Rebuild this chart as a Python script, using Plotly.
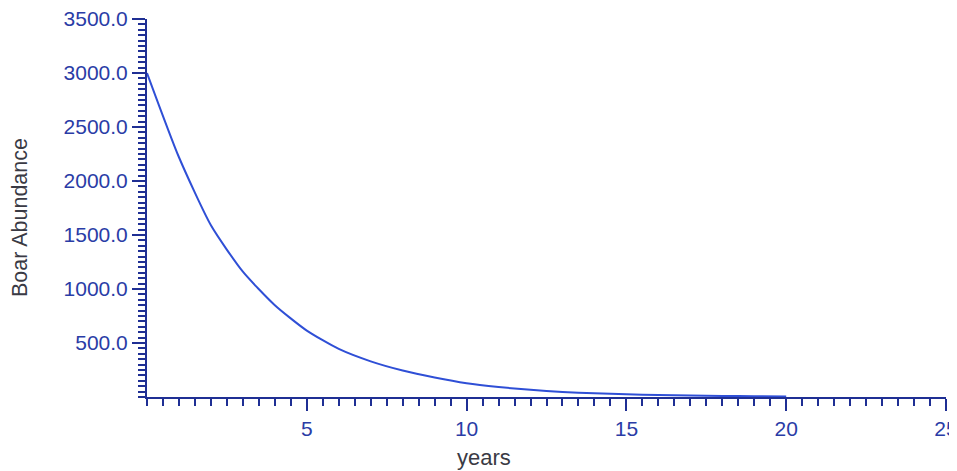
import plotly.graph_objects as go

# ---- data ----
years = [0, 1, 2, 3, 4, 5, 6, 7, 8, 9, 10, 11, 12, 13, 14, 15, 16, 17, 18, 19, 20]
abundance = [3000, 2220, 1590, 1160, 850, 615, 445, 330, 245, 180, 127,
             92, 66, 47, 34, 25, 18, 13, 10, 7, 5]

x_tickvals = [5, 10, 15, 20, 25]
x_ticktext = ["5", "10", "15", "20", "25"]
y_tickvals = [500, 1000, 1500, 2000, 2500, 3000, 3500]
y_ticktext = ["500.0", "1000.0", "1500.0", "2000.0", "2500.0", "3000.0", "3500.0"]

x_title = "years"
y_title = "Boar Abundance"

AXIS_COLOR = "#1f2f94"
LABEL_COLOR = "#2a3ca6"
LINE_COLOR = "#2f4fd6"
TITLE_COLOR = "#3a3a44"
FONT = "Arial, Liberation Sans, sans-serif"

fig = go.Figure()
fig.add_trace(go.Scatter(
    x=years, y=abundance, mode="lines",
    line=dict(color=LINE_COLOR, width=2, shape="spline", smoothing=0.6),
    showlegend=False, hoverinfo="x+y",
))

fig.update_layout(
    width=949, height=463,
    margin=dict(l=139, r=11, t=11, b=74),
    paper_bgcolor="white", plot_bgcolor="white",
    font=dict(family=FONT),
    xaxis=dict(
        range=[0, 25], showgrid=False, zeroline=False,
        showline=True, linecolor=AXIS_COLOR, linewidth=2,
        tickmode="array", tickvals=x_tickvals, ticktext=x_ticktext,
        ticks="outside", ticklen=12, tickwidth=2, tickcolor=AXIS_COLOR,
        tickfont=dict(family=FONT, size=21, color=LABEL_COLOR),
        ticklabeloverflow="allow",
        minor=dict(tickmode="linear", tick0=0, dtick=0.5, ticks="outside",
                   ticklen=7, tickwidth=2, tickcolor=AXIS_COLOR, showgrid=False),
        automargin=False, fixedrange=True,
    ),
    yaxis=dict(
        range=[0, 3500], showgrid=False, zeroline=False,
        showline=True, linecolor=AXIS_COLOR, linewidth=2,
        tickmode="array", tickvals=y_tickvals, ticktext=y_ticktext,
        ticks="outside", ticklen=13, tickwidth=2, tickcolor=AXIS_COLOR,
        tickfont=dict(family=FONT, size=21, color=LABEL_COLOR),
        ticklabeloverflow="allow",
        minor=dict(tickmode="linear", tick0=0, dtick=50, ticks="outside",
                   ticklen=7, tickwidth=1.5, tickcolor=AXIS_COLOR, showgrid=False),
        automargin=False, fixedrange=True,
    ),
    annotations=[
        dict(text=x_title, xref="paper", yref="paper", x=0.4218, y=-0.159,
             xanchor="center", yanchor="middle", showarrow=False,
             font=dict(family=FONT, size=22, color=TITLE_COLOR)),
        dict(text=y_title, xref="paper", yref="paper", x=-0.159, y=0.476,
             xanchor="center", yanchor="middle", showarrow=False, textangle=-90,
             font=dict(family=FONT, size=21.5, color=TITLE_COLOR)),
    ],
)

fig.write_html("out.html")
